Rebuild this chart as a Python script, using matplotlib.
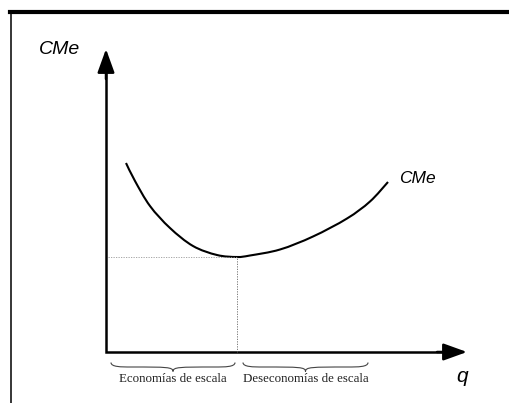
import matplotlib
matplotlib.use('Agg')
import matplotlib.pyplot as plt
from matplotlib.path import Path
from matplotlib.patches import PathPatch
from matplotlib.lines import Line2D

# average cost curve (q, CMe)
q = [2.0, 2.9, 4.4, 6.4, 8.7, 11.1, 13.1, 14.4, 17.4, 20.7, 24.1, 26.4, 28.2]
cme = [18.9, 17.1, 14.6, 12.4, 10.6, 9.7, 9.5, 9.65, 10.25, 11.55, 13.35, 15.05, 17.0]

q_min, cme_min = 13.1, 9.5
q_max, cme_top = 36.1, 30.3

braces = [(0.5, 12.9), (13.7, 26.2)]
brace_labels = ['Economías de escala', 'Deseconomías de escala']
axis_label_y = 'CMe'
axis_label_x = 'q'
curve_label = 'CMe'

fig = plt.figure(figsize=(5.1, 4.03), dpi=100)
ax = fig.add_axes([0, 0, 1, 1])
ax.set_xlim(-10.6, 40.4)
ax.set_ylim(-5.1, 35.2)
ax.axis('off')

# frame lines of the original figure box
fig.add_artist(Line2D([10 / 510, 1], [1 - 12 / 403] * 2, color='black', lw=3))
fig.add_artist(Line2D([11.5 / 510] * 2, [0, 1 - 12 / 403], color='black', lw=1.1))

# axes with arrows
ax.plot([0, 0, q_max - 1.5], [cme_top - 1.5, 0, 0], color='black', lw=1.8,
        solid_joinstyle='miter')
arrow = dict(arrowstyle='-|>,head_length=0.72,head_width=0.26', lw=1.8,
             color='black', mutation_scale=20, shrinkA=0, shrinkB=0)
ax.annotate('', xy=(q_max, 0), xytext=(q_max - 3, 0), arrowprops=arrow)
ax.annotate('', xy=(0, cme_top), xytext=(0, cme_top - 3), arrowprops=arrow)

# guides to the minimum
ax.plot([0.2, q_min], [cme_min, cme_min], color='#999999', lw=0.6, ls=(0, (1.5, 1.5)))
ax.plot([q_min, q_min], [0, cme_min], color='#666666', lw=0.6, ls=(0, (1.5, 1.5)))

# smooth curve through the read points (Catmull-Rom -> cubic Bezier)
pts = list(zip(q, cme))
verts = [pts[0]]
codes = [Path.MOVETO]
for i in range(len(pts) - 1):
    p0 = pts[max(i - 1, 0)]
    p1, p2 = pts[i], pts[i + 1]
    p3 = pts[min(i + 2, len(pts) - 1)]
    c1 = (p1[0] + (p2[0] - p0[0]) / 6, p1[1] + (p2[1] - p0[1]) / 6)
    c2 = (p2[0] - (p3[0] - p1[0]) / 6, p2[1] - (p3[1] - p1[1]) / 6)
    verts += [c1, c2, p2]
    codes += [Path.CURVE4] * 3
ax.add_patch(PathPatch(Path(verts, codes), fc='none', ec='black', lw=1.5))


def brace(x0, x1, y, d=0.45):
    xm = (x0 + x1) / 2
    bv = [(x0, y), (x0, y - d), (x0 + 1, y - d), (x0 + 2, y - d),
          (xm - 0.6, y - d), (xm, y - d), (xm, y - 2 * d),
          (xm, y - d), (xm + 0.6, y - d), (x1 - 2, y - d),
          (x1 - 1, y - d), (x1, y - d), (x1, y)]
    bc = [Path.MOVETO] + [Path.CURVE4] * 12
    ax.add_patch(PathPatch(Path(bv, bc), fc='none', ec='#444444', lw=0.8))


for (a, b), lab in zip(braces, brace_labels):
    brace(a, b, -1.05)
    ax.text((a + b) / 2, -2.75, lab, family='Liberation Serif', fontsize=9.3,
            ha='center', va='center', color='#222222')

ax.text(-6.7, 29.4, axis_label_y, fontsize=14, style='italic',
        family='Liberation Sans', ha='left', va='bottom')
ax.text(q_max - 0.45, -2.5, axis_label_x, fontsize=15, style='italic',
        family='Liberation Sans', ha='center', va='center')
ax.text(29.3, 16.6, curve_label, fontsize=12.5, style='italic',
        family='Liberation Sans', ha='left', va='bottom')

fig.savefig('out.png', dpi=100)
